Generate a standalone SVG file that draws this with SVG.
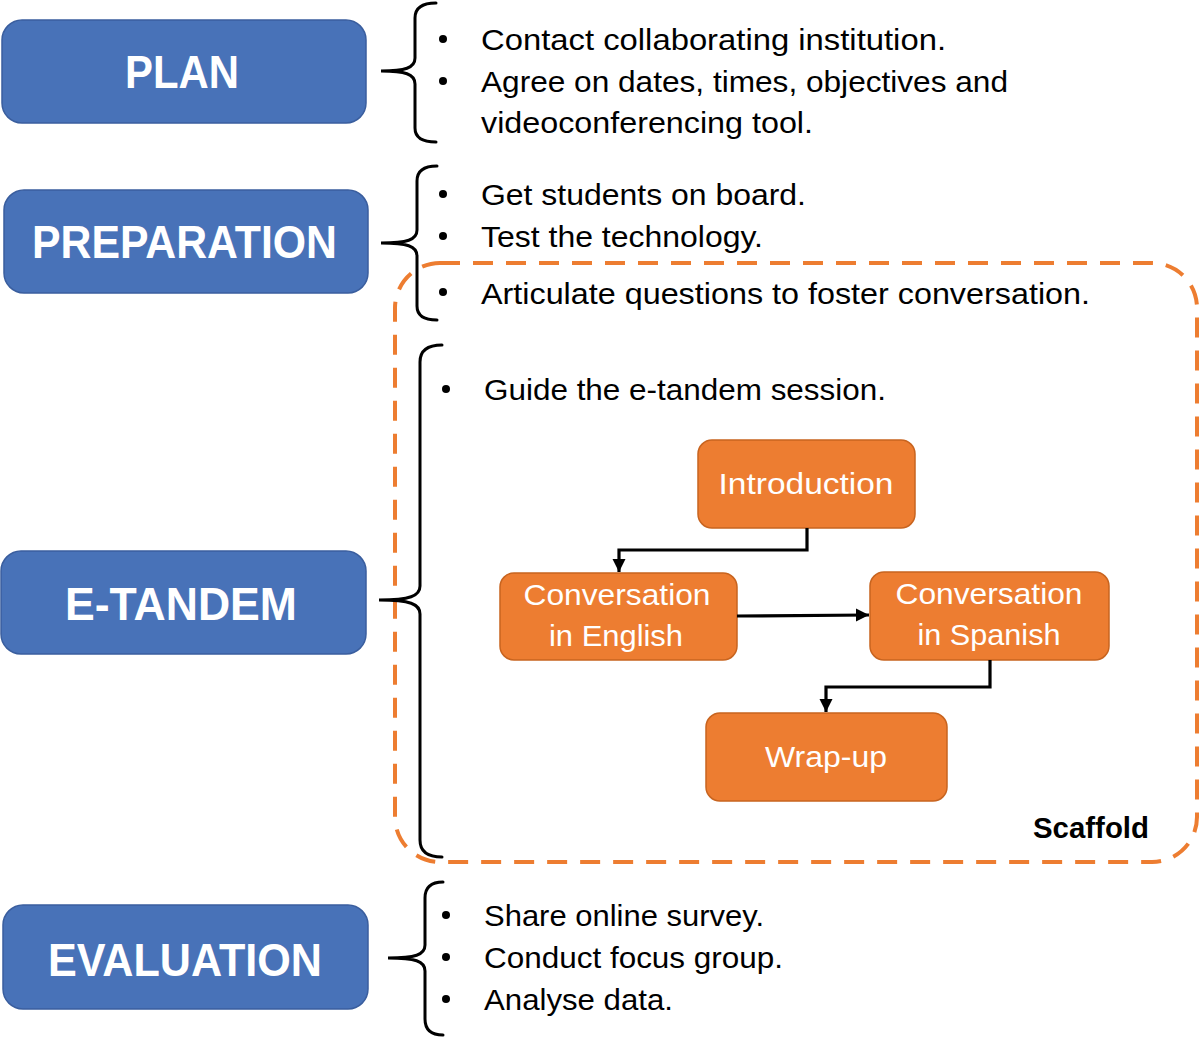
<svg xmlns="http://www.w3.org/2000/svg" width="1200" height="1039" viewBox="0 0 1200 1039">
<style>
.phase{fill:#4872B8;stroke:#3A5E9E;stroke-width:1.5}
.phase-t{font-family:"Liberation Sans",Arial,sans-serif;font-weight:bold;font-size:47px;fill:#fff;text-anchor:middle}
.step{fill:#ED7D31;stroke:#C8641F;stroke-width:1.5}
.step-t{font-family:"Liberation Sans",Arial,sans-serif;font-size:30px;fill:#fff;text-anchor:middle}
.body{font-family:"Liberation Sans",Arial,sans-serif;font-size:29px;fill:#000}
.brace{fill:none;stroke:#000;stroke-width:3;stroke-linecap:round}
.conn{fill:none;stroke:#000;stroke-width:3.2}
</style>
<defs>
<marker id="ah" viewBox="0 0 10 10" refX="10" refY="5" markerWidth="4.2" markerHeight="4.2" orient="auto" markerUnits="strokeWidth">
<path d="M0,0 L10,5 L0,10 Z" fill="#000"/>
</marker>
</defs>
<rect width="1200" height="1039" fill="#fff"/>

<g id="scaffold">
<rect x="395" y="263" width="802" height="599" rx="45" fill="none" stroke="#ED7D31" stroke-width="4" stroke-dasharray="20 13"/>
<text x="1149" y="838" font-family="Liberation Sans,Arial,sans-serif" font-weight="bold" font-size="29" text-anchor="end" textLength="116" lengthAdjust="spacingAndGlyphs">Scaffold</text>
</g>

<g id="plan">
<rect class="phase" x="2" y="20" width="364" height="103" rx="20"/>
<text class="phase-t" x="182" y="88" textLength="114" lengthAdjust="spacingAndGlyphs">PLAN</text>
<path class="brace" d="M436,3 Q415,3 415,18 L415,58 C415,68 405,71 381,71 C405,71 415,74 415,84 L415,128 Q415,142 436,142"/>
<circle cx="443" cy="39" r="4"/>
<text class="body" x="481" y="50" textLength="465" lengthAdjust="spacingAndGlyphs">Contact collaborating institution.</text>
<circle cx="443" cy="81" r="4"/>
<text class="body" x="481" y="92" textLength="527" lengthAdjust="spacingAndGlyphs">Agree on dates, times, objectives and</text>
<text class="body" x="481" y="133" textLength="332" lengthAdjust="spacingAndGlyphs">videoconferencing tool.</text>
</g>

<g id="preparation">
<rect class="phase" x="4" y="190" width="364" height="103" rx="20"/>
<text class="phase-t" x="184.5" y="258" textLength="305" lengthAdjust="spacingAndGlyphs">PREPARATION</text>
<path class="brace" d="M437,166 Q417,166 417,181 L417,230 C417,240 407,243 381,243 C407,243 417,246 417,256 L417,306 Q417,320 437,320"/>
<circle cx="443" cy="194" r="4"/>
<text class="body" x="481" y="205" textLength="325" lengthAdjust="spacingAndGlyphs">Get students on board.</text>
<circle cx="443" cy="236" r="4"/>
<text class="body" x="481" y="247" textLength="282" lengthAdjust="spacingAndGlyphs">Test the technology.</text>
<circle cx="443" cy="292" r="4"/>
<text class="body" x="481" y="304" textLength="609" lengthAdjust="spacingAndGlyphs">Articulate questions to foster conversation.</text>
</g>

<g id="etandem">
<rect class="phase" x="1" y="551" width="365" height="103" rx="20"/>
<text class="phase-t" x="181" y="620" textLength="232" lengthAdjust="spacingAndGlyphs">E-TANDEM</text>
<path class="brace" d="M442,345 Q420,345 420,362 L420,586 C420,596 410,600 379,600 C410,600 420,604 420,614 L420,840 Q420,857 442,857"/>
<circle cx="446" cy="389" r="4"/>
<text class="body" x="484" y="400" textLength="402" lengthAdjust="spacingAndGlyphs">Guide the e-tandem session.</text>
</g>

<g id="evaluation">
<rect class="phase" x="3" y="905" width="365" height="104" rx="20"/>
<text class="phase-t" x="185" y="976" textLength="274" lengthAdjust="spacingAndGlyphs">EVALUATION</text>
<path class="brace" d="M443,882 Q425,882 425,898 L425,945 C425,955 415,958 388,958 C415,958 425,961 425,971 L425,1019 Q425,1035 443,1035"/>
<circle cx="446" cy="915" r="4"/>
<text class="body" x="484" y="926" textLength="280" lengthAdjust="spacingAndGlyphs">Share online survey.</text>
<circle cx="446" cy="957" r="4"/>
<text class="body" x="484" y="968" textLength="299" lengthAdjust="spacingAndGlyphs">Conduct focus group.</text>
<circle cx="446" cy="999" r="4"/>
<text class="body" x="484" y="1010" textLength="189" lengthAdjust="spacingAndGlyphs">Analyse data.</text>
</g>

<g id="introduction">
<rect class="step" x="698" y="440" width="217" height="88" rx="14"/>
<text class="step-t" x="806" y="494" textLength="175" lengthAdjust="spacingAndGlyphs">Introduction</text>
</g>
<g id="conv-english">
<rect class="step" x="500" y="573" width="237" height="87" rx="14"/>
<text class="step-t" x="617" y="605" textLength="187" lengthAdjust="spacingAndGlyphs">Conversation</text>
<text class="step-t" x="616" y="646" textLength="134" lengthAdjust="spacingAndGlyphs">in English</text>
</g>
<g id="conv-spanish">
<rect class="step" x="870" y="572" width="239" height="88" rx="14"/>
<text class="step-t" x="989" y="604" textLength="187" lengthAdjust="spacingAndGlyphs">Conversation</text>
<text class="step-t" x="989" y="645" textLength="143" lengthAdjust="spacingAndGlyphs">in Spanish</text>
</g>
<g id="wrapup">
<rect class="step" x="706" y="713" width="241" height="88" rx="14"/>
<text class="step-t" x="826" y="767" textLength="122" lengthAdjust="spacingAndGlyphs">Wrap-up</text>
</g>

<g id="connectors">
<path class="conn" d="M807,528 L807,550 L619,550 L619,572" marker-end="url(#ah)"/>
<path class="conn" d="M737,616 L869,615" marker-end="url(#ah)"/>
<path class="conn" d="M990,660 L990,687 L826,687 L826,712" marker-end="url(#ah)"/>
</g>
</svg>
